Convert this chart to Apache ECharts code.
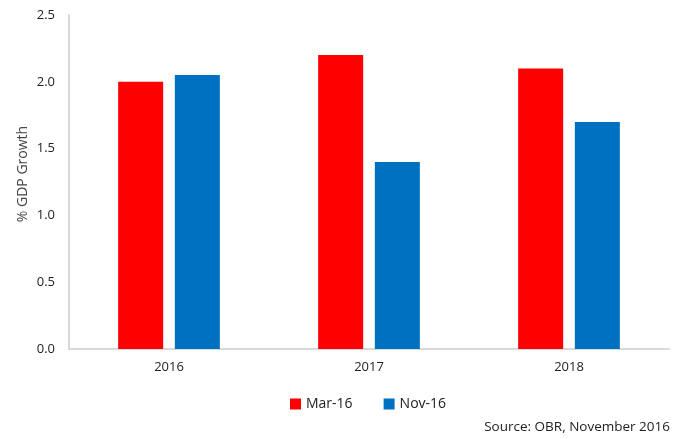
<!DOCTYPE html>
<html><head><meta charset="utf-8">
<script src="https://cdn.jsdelivr.net/npm/echarts@6/dist/echarts.min.js"></script>
<style>html,body{margin:0;padding:0;background:#fff}#c{width:680px;height:439px}</style>
</head><body><div id="c"></div>
<script>
var categories = ['2016', '2017', '2018'];
var seriesNames = ['Mar-16', 'Nov-16'];
var mar16 = [2.0, 2.2, 2.1];
var nov16 = [2.05, 1.4, 1.7];
var yTicks = ['0.0', '0.5', '1.0', '1.5', '2.0', '2.5'];
var yTitle = '% GDP Growth';
var source = 'Source: OBR, November 2016';

var font = '"Open Sans", "Liberation Sans", sans-serif';
var chart = echarts.init(document.getElementById('c'), null, {renderer: 'canvas'});
chart.setOption({
  animation: false,
  backgroundColor: '#fff',
  grid: {left: 69, right: 11, top: 15, bottom: 90},
  legend: {
    data: seriesNames, bottom: 23, left: 285, itemWidth: 11, itemHeight: 11, itemGap: 31,
    icon: 'rect', textStyle: {fontFamily: font, fontSize: 14, color: '#222'}
  },
  title: {
    text: source, right: 5, bottom: 0,
    textStyle: {fontFamily: font, fontSize: 13.5, fontWeight: 'normal', color: '#222'}
  },
  xAxis: {
    type: 'category', data: categories,
    axisLine: {lineStyle: {color: '#d9d9d9', width: 2}},
    axisTick: {show: false},
    axisLabel: {fontFamily: font, fontSize: 13, color: '#222', margin: 12}
  },
  yAxis: {
    type: 'value', min: 0, max: 2.5, interval: 0.5,
    name: yTitle, nameLocation: 'middle', nameGap: 39, nameMoveOverlap: false,
    nameTextStyle: {fontFamily: font, fontSize: 14, color: '#444', padding: [0, 0, 0, 16]},
    axisLine: {show: true, lineStyle: {color: '#d9d9d9', width: 2}},
    axisTick: {show: false},
    splitLine: {show: false},
    axisLabel: {fontFamily: font, fontSize: 13, color: '#222', margin: 14,
      formatter: function (v) { return yTicks[Math.round(v / 0.5)]; }}
  },
  series: [
    {name: seriesNames[0], type: 'bar', data: mar16, barWidth: 45, barGap: '26%',
     itemStyle: {color: '#ff0000'}},
    {name: seriesNames[1], type: 'bar', data: nov16, barWidth: 45,
     itemStyle: {color: '#0070c0'}}
  ]
});
</script></body></html>
